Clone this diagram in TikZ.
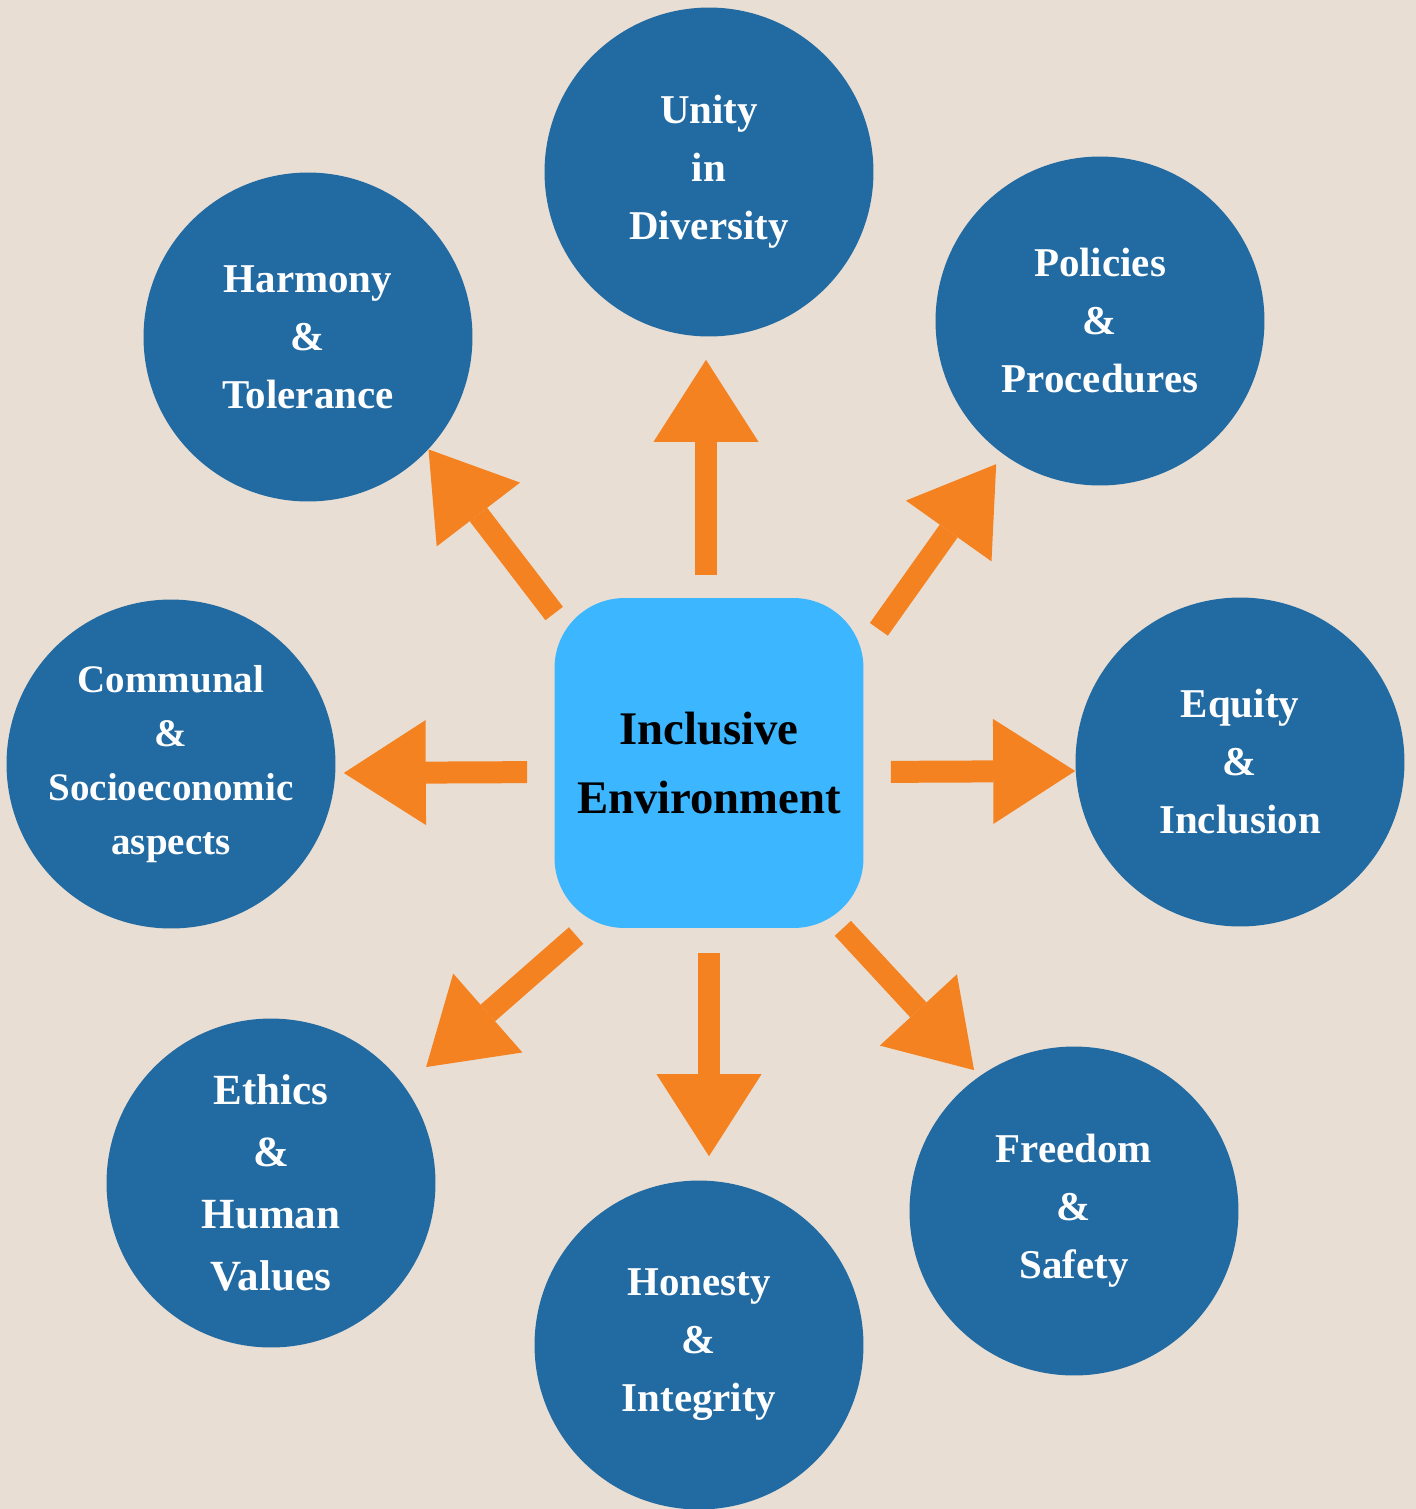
\documentclass[tikz,border=0pt]{standalone}
\usepackage{fontspec}
\setmainfont{Liberation Serif}
\usetikzlibrary{arrows.meta}
\definecolor{paper}{HTML}{E8DED3}
\definecolor{dotblue}{HTML}{226AA2}
\definecolor{boxblue}{HTML}{3BB6FF}
\definecolor{arrorange}{HTML}{F58220}
\begin{document}
\begin{tikzpicture}[x=0.02cm,y=-0.02cm,
    value/.style={circle,fill=dotblue,text=white,minimum size=6.58cm,inner sep=0pt,align=center,
        font=\fontsize{23.3}{33}\selectfont\bfseries},
    core/.style={rectangle,rounded corners=1.4cm,fill=boxblue,minimum width=6.18cm,minimum height=6.6cm,
        align=center,font=\fontsize{26.6}{39.8}\selectfont\bfseries},
    pointer/.style={draw=arrorange,line width=0.44cm,
        -{Triangle[length=1.64cm,width=2.1cm,line width=0pt,fill=arrorange]}}]
            \useasboundingbox (0,0) rectangle (1416,1509);
            \fill[paper] (0,0) rectangle (1416,1509);
            \node[core] (env) at (709,763) {Inclusive\\Environment};
            \node[value] (unity) at (709,172) {Unity\\in\\Diversity};
            \node[value] (policies) at (1100,321) {Policies\\\&\\Procedures};
            \node[value] (equity) at (1240,762) {Equity\\\&\\Inclusion};
            \node[value] (freedom) at (1074,1211) {Freedom\\\&\\Safety};
            \node[value] (honesty) at (699,1345) {Honesty\\\&\\Integrity};
            \node[value,font=\fontsize{24.5}{35.3}\selectfont\bfseries] (ethics) at (271,1183) {Ethics\\\&\\Human\\Values};
            \node[value,font=\fontsize{22.2}{30.7}\selectfont\bfseries] (communal) at (171,764) {Communal\\\&\\Socioeconomic\\aspects};
            \node[value] (harmony) at (308,337) {Harmony\\\&\\Tolerance};
            % arrows out of the centre box
            \draw[pointer,shorten <=0.46cm,shorten >=0.46cm] ([xshift=-0.06cm]env.north) -- ([xshift=-0.06cm]env.north |- unity.south);
            \draw[pointer,shorten <=0.52cm,shorten >=0.24cm] (env.36) -- (policies.234);
            \draw[pointer,shorten <=0.54cm] ([yshift=-0.18cm]env.east) -- ([yshift=-0.18cm]equity.west);
            \draw[pointer,shorten >=0.16cm] (env.309) -- (freedom.125);
            \draw[pointer,shorten <=0.5cm,shorten >=0.48cm] (env.south) -- (env.south |- honesty.north);
            \draw[pointer,shorten <=0.22cm,shorten >=0.58cm] (env.233) -- (ethics.36);
            \draw[pointer,shorten <=0.54cm,shorten >=0.16cm] ([yshift=-0.18cm]env.west) -- ([yshift=-0.18cm]communal.east);
            \draw[pointer] (env.136) -- (harmony.317);
        \end{tikzpicture}
\end{document}
